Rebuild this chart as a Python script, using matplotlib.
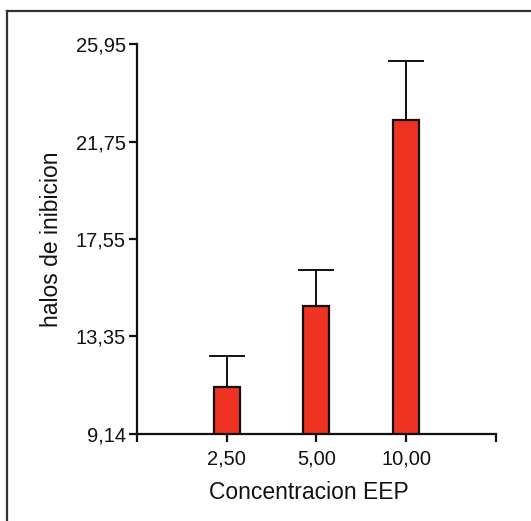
import matplotlib
matplotlib.use('Agg')
import matplotlib.pyplot as plt
from matplotlib.lines import Line2D

plt.rcParams['font.family'] = ['Liberation Sans', 'DejaVu Sans']

# Data
categories = ['2,50', '5,00', '10,00']
means = [11.17, 14.67, 22.68]
errors = [1.33, 1.54, 2.56]
ytick_values = [9.14, 13.35, 17.55, 21.75, 25.95]
ytick_labels = ['9,14', '13,35', '17,55', '21,75', '25,95']

fig = plt.figure(figsize=(5.31, 5.21), dpi=100)
ax = fig.add_axes([0.258, 0.167, 0.676, 0.748])

xpos = [1, 2, 3]
ax.bar(xpos, means, width=0.29, color='#ee3323', edgecolor='#111111',
       linewidth=1.6, zorder=2)
eb = ax.errorbar(xpos, means, yerr=[[0, 0, 0], errors], fmt='none',
                 ecolor='#111111', elinewidth=1.4, capsize=13, capthick=1.4, zorder=1)
# only the upper cap is drawn in the original
eb[1][0].set_visible(False)

ax.set_xlim(0, 4)
ax.set_ylim(9.14, 25.95)
ax.set_xticks([0, 1, 2, 3, 4])
ax.set_xticklabels([''] + categories + [''])
ax.set_yticks(ytick_values)
ax.set_yticklabels(ytick_labels)

for side in ['top', 'right']:
    ax.spines[side].set_visible(False)
for side in ['left', 'bottom']:
    ax.spines[side].set_linewidth(1.6)
    ax.spines[side].set_color('#111111')

ax.tick_params(axis='both', direction='out', length=6, width=1.6,
               color='#111111', labelsize=14.5, labelcolor='#111111', pad=2)
ax.tick_params(axis='x', pad=5)

ax.set_xlabel('Concentracion EEP', fontsize=16.5, color='#111111', labelpad=9, x=0.48)
ax.set_ylabel('halos de inibicion', fontsize=16.5, color='#111111', labelpad=9)

# outer frame (left and top edges only visible)
fig.add_artist(Line2D([0.0141, 0.0141], [0, 0.978], transform=fig.transFigure,
                      color='#333333', linewidth=1.6))
fig.add_artist(Line2D([0.0141, 1.0], [0.978, 0.978], transform=fig.transFigure,
                      color='#333333', linewidth=1.6))

plt.savefig('out.png', dpi=100)
plt.close()
